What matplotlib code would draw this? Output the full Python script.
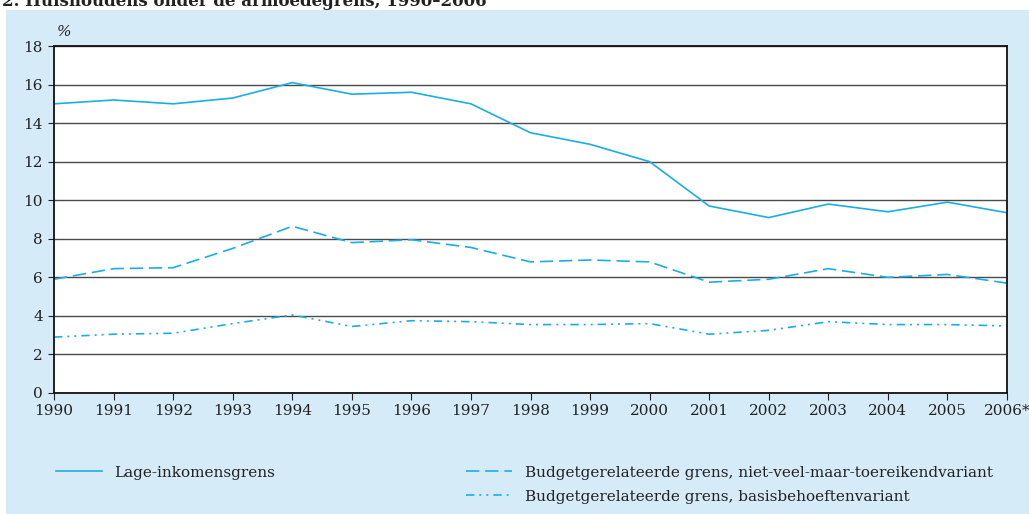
import numpy as np
import matplotlib.pyplot as plt
from matplotlib.patches import Rectangle

# - Data
years = np.arange(1990, 2007)
year_labels = [str(y) for y in range(1990, 2006)] + ['2006*']

lage_inkomen = [15.0, 15.2, 15.0, 15.3, 16.1, 15.5, 15.6, 15.0, 13.5,
                12.9, 12.0, 9.7, 9.1, 9.8, 9.4, 9.9, 9.35]
nvmt = [5.9, 6.45, 6.5, 7.5, 8.65, 7.8, 7.95, 7.55, 6.8,
        6.9, 6.8, 5.75, 5.9, 6.45, 6.0, 6.15, 5.7]
basis = [2.9, 3.05, 3.1, 3.6, 4.05, 3.45, 3.75, 3.7, 3.55,
         3.55, 3.6, 3.05, 3.25, 3.7, 3.55, 3.55, 3.48]

names = ['Lage-inkomensgrens',
         'Budgetgerelateerde grens, niet-veel-maar-toereikendvariant',
         'Budgetgerelateerde grens, basisbehoeftenvariant']

#################################################

plt.rcParams['font.family'] = ['DejaVu Serif']

blue = '#1aaee6'
bg = '#d5ecf8'

fig = plt.figure(figsize=(10.29, 5.14), dpi=100, facecolor=bg)

# - white strip on top and left with the clipped title
fig.patches.append(Rectangle((0, 1 - 10 / 514), 1, 10 / 514, transform=fig.transFigure,
                             facecolor='white', edgecolor='none', zorder=0))
fig.patches.append(Rectangle((0, 0), 6 / 1029, 1, transform=fig.transFigure,
                             facecolor='white', edgecolor='none', zorder=0))
fig.text(2 / 1029, 1 - 6 / 514, '2. Huishoudens onder de armoedegrens, 1990–2006',
         fontsize=12, fontweight='bold', va='baseline', ha='left', color='#222222')

ax = fig.add_axes([54 / 1029, 121 / 514, 953 / 1029, 347 / 514])
ax.set_facecolor('white')

dashed = (0, (8, 3.5))
dashdotdot = (0, (5, 3, 1.2, 3, 1.2, 3))

l1, = ax.plot(years, lage_inkomen, color=blue, lw=1.2, ls='-')
l2, = ax.plot(years, nvmt, color=blue, lw=1.2, ls=dashed)
l3, = ax.plot(years, basis, color=blue, lw=1.2, ls=dashdotdot)

ax.set_xlim(1990, 2006)
ax.set_ylim(0, 18)
ax.set_yticks(np.arange(0, 19, 2))
ax.set_xticks(years)
ax.set_xticklabels(year_labels)
ax.grid(axis='y', color='#4a4a4a', lw=1.0)
ax.set_axisbelow(True)
for s in ax.spines.values():
    s.set_color('#111111')
    s.set_linewidth(1.3)
ax.tick_params(axis='both', labelsize=11, colors='#222222', direction='out')
ax.tick_params(axis='x', length=5, pad=3)
ax.tick_params(axis='y', length=4, pad=4)

ax.text(0.003, 1.02, '%', transform=ax.transAxes, fontsize=11, color='#222222',
        ha='left', va='bottom', style='italic')

# - Legend
leg1 = fig.legend([l1], [names[0]], loc='upper left', bbox_to_anchor=(42 / 1029, 1 - 452 / 514),
                  frameon=False, fontsize=11, handlelength=3.0, handletextpad=0.85)
leg2 = fig.legend([l2, l3], names[1:], loc='upper left', bbox_to_anchor=(452 / 1029, 1 - 452 / 514),
                  frameon=False, fontsize=11, handlelength=3.0, handletextpad=0.85,
                  labelspacing=0.65)
for t in leg1.get_texts() + leg2.get_texts():
    t.set_color('#222222')

# - Save figure
plt.savefig('out.png', dpi=100, facecolor=bg)
